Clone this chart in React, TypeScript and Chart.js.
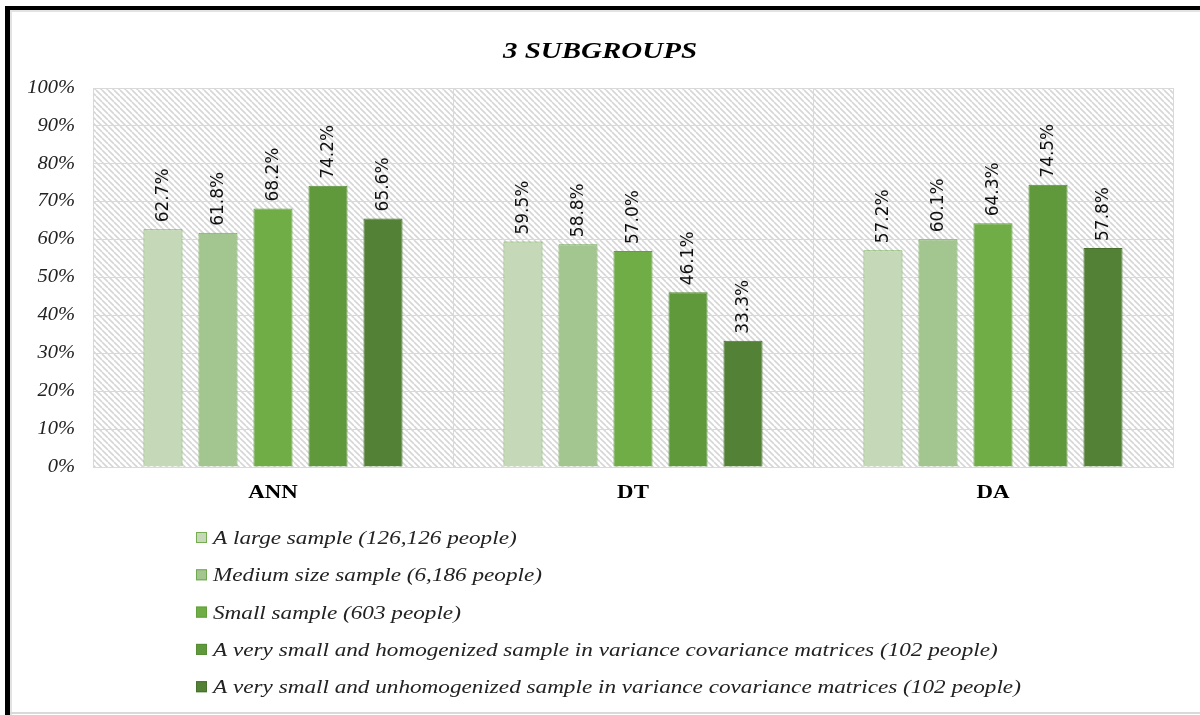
import React, { useEffect, useRef } from "react";
import { Chart, registerables } from "chart.js";

Chart.register(...registerables);

const categories = ["ANN", "DT", "DA"];
const seriesNames = [
  "A large sample (126,126 people)",
  "Medium size sample (6,186 people)",
  "Small sample (603 people)",
  "A very small and homogenized sample in variance covariance matrices (102 people)",
  "A very small and unhomogenized sample in variance covariance matrices (102 people)",
];
const largeSample = [62.7, 59.5, 57.2];
const mediumSample = [61.8, 58.8, 60.1];
const smallSample = [68.2, 57.0, 64.3];
const verySmallHomogenized = [74.2, 46.1, 74.5];
const verySmallUnhomogenized = [65.6, 33.3, 57.8];
const yTickValues = [0, 10, 20, 30, 40, 50, 60, 70, 80, 90, 100];
const titleText = "3 SUBGROUPS";

const fillColors = ["#c5d9b8", "#a3c590", "#70ad47", "#5f993c", "#538135"];
const edgeColors = ["#74ad52", "#6fa850", "#62a03c", "#558c35", "#47702d"];

const SERIF = "'Liberation Serif', 'Times New Roman', serif";
const SX = 1.22; // horizontal stretch of the reference text

function stretchText(ctx: CanvasRenderingContext2D, text: string, x: number, y: number, sx: number) {
  ctx.save();
  ctx.translate(x, y);
  ctx.scale(sx, 1);
  ctx.fillText(text, 0, 0);
  ctx.restore();
}

function makeHatch(): CanvasPattern | string {
  const c = document.createElement("canvas");
  c.width = 6;
  c.height = 6;
  const g = c.getContext("2d");
  if (!g) return "#fff";
  g.fillStyle = "#ffffff";
  g.fillRect(0, 0, 6, 6);
  g.strokeStyle = "#d6d6d6";
  g.lineWidth = 1.6;
  g.beginPath();
  for (let k = -6; k <= 12; k += 6) {
    g.moveTo(k, 0);
    g.lineTo(k + 6, 6);
  }
  g.stroke();
  const p = g.createPattern(c, "repeat");
  return p || "#fff";
}

const framePlugin = {
  id: "frame",
  beforeDraw(chart: any) {
    const { ctx, chartArea } = chart;
    ctx.save();
    ctx.fillStyle = "#ffffff";
    ctx.fillRect(0, 0, chart.width, chart.height);
    ctx.fillStyle = makeHatch();
    ctx.fillRect(chartArea.left, chartArea.top, chartArea.right - chartArea.left, chartArea.bottom - chartArea.top);
    ctx.fillStyle = "#e3e3e3";
    ctx.fillRect(10, 10, chart.width - 10, 2);
    ctx.fillRect(10, 10, 2, chart.height - 10);
    ctx.fillStyle = "#000000";
    ctx.fillRect(5, 6, chart.width - 5, 4);
    ctx.fillRect(5, 6, 5, chart.height - 6);
    ctx.fillStyle = "#d9d9d9";
    ctx.fillRect(10, 712, chart.width - 10, 2);
    ctx.fillStyle = "#000000";
    ctx.font = `italic bold 23px ${SERIF}`;
    ctx.textAlign = "center";
    ctx.textBaseline = "middle";
    stretchText(ctx, titleText, 600, 52, 1.26);
    ctx.restore();
  },
};

const axisTextPlugin = {
  id: "axisText",
  afterDraw(chart: any) {
    const { ctx } = chart;
    const xs = chart.scales.x;
    const ys = chart.scales.y;
    ctx.save();
    ctx.fillStyle = "#222222";
    ctx.font = `italic 18px ${SERIF}`;
    ctx.textAlign = "right";
    ctx.textBaseline = "middle";
    yTickValues.forEach((v) => {
      stretchText(ctx, `${v}%`, 75, ys.getPixelForValue(v), 1.14);
    });
    ctx.fillStyle = "#000000";
    ctx.font = `bold 18px ${SERIF}`;
    ctx.textAlign = "center";
    categories.forEach((c, i) => {
      stretchText(ctx, c, xs.getPixelForValue(i), xs.top + 26, 1.27);
    });
    ctx.restore();
  },
};

const labelPlugin = {
  id: "barLabels",
  afterDatasetsDraw(chart: any) {
    const { ctx } = chart;
    ctx.save();
    ctx.fillStyle = "#111111";
    ctx.font = `16px 'DejaVu Sans', sans-serif`;
    ctx.textAlign = "left";
    ctx.textBaseline = "middle";
    chart.data.datasets.forEach((ds: any, di: number) => {
      const meta = chart.getDatasetMeta(di);
      meta.data.forEach((bar: any, i: number) => {
        const v = ds.data[i];
        ctx.save();
        ctx.translate(bar.x, bar.y - 7);
        ctx.rotate(-Math.PI / 2);
        ctx.scale(1.06, 1.15);
        ctx.fillText(v.toFixed(1) + "%", 0, 0);
        ctx.restore();
      });
    });
    ctx.restore();
  },
};

const legendPlugin = {
  id: "customLegend",
  afterDraw(chart: any) {
    const { ctx } = chart;
    ctx.save();
    ctx.font = `italic 19px ${SERIF}`;
    ctx.textAlign = "left";
    ctx.textBaseline = "middle";
    chart.data.datasets.forEach((ds: any, i: number) => {
      const y = 538 + i * 37.3;
      ctx.fillStyle = ds.backgroundColor;
      ctx.fillRect(196, y - 6, 11, 11);
      ctx.strokeStyle = ds.borderColor;
      ctx.lineWidth = 1;
      ctx.strokeRect(196.5, y - 5.5, 10, 10);
      ctx.fillStyle = "#222222";
      stretchText(ctx, ds.label, 213, y + 1, SX);
    });
    ctx.restore();
  },
};

export default function App() {
  const ref = useRef<HTMLCanvasElement | null>(null);
  useEffect(() => {
    if (!ref.current) return;
    const seriesValues = [largeSample, mediumSample, smallSample, verySmallHomogenized, verySmallUnhomogenized];
    const chart = new Chart(ref.current, {
      type: "bar",
      data: {
        labels: categories,
        datasets: seriesValues.map((vals, i) => ({
          label: seriesNames[i],
          data: vals,
          backgroundColor: fillColors[i],
          borderColor: edgeColors[i],
          borderWidth: 1,
          categoryPercentage: 0.764,
          barPercentage: 0.71,
        })),
      },
      options: {
        responsive: false,
        animation: false,
        layout: { padding: { top: 88, left: 0, right: 27, bottom: 198 } },
        plugins: {
          legend: { display: false },
          title: { display: false },
          tooltip: { enabled: false },
        },
        scales: {
          x: {
            grid: { color: "#d9d9d9", drawTicks: false, offset: true },
            border: { color: "#d9d9d9" },
            ticks: { display: false },
            afterFit(scale: any) {
              scale.height = 50;
            },
          },
          y: {
            min: 0,
            max: 100,
            grid: { color: "#d9d9d9", drawTicks: false },
            border: { color: "#d9d9d9" },
            ticks: { stepSize: 10, display: false },
            afterFit(scale: any) {
              scale.width = 93;
            },
          },
        },
      },
      plugins: [framePlugin, labelPlugin, axisTextPlugin, legendPlugin],
    });
    return () => chart.destroy();
  }, []);
  return (
    <div style={{ position: "absolute", left: 0, top: 0, width: 1200, height: 715 }}>
      <canvas ref={ref} width={1200} height={715} style={{ width: 1200, height: 715, display: "block" }} />
    </div>
  );
}
